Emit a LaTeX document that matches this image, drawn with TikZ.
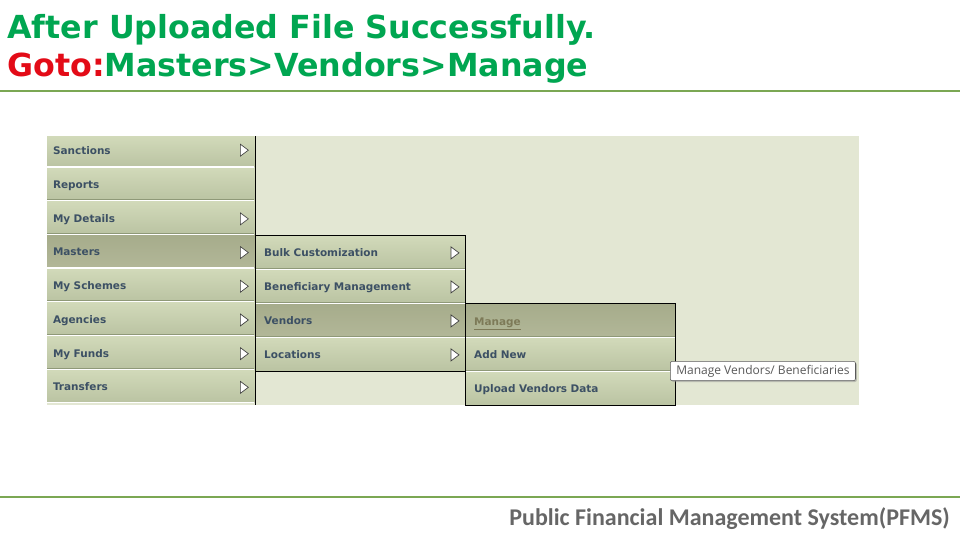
\documentclass[tikz,border=0pt]{standalone}
\usepackage{fontspec}
\setmainfont{DejaVu Sans}
\newfontfamily\footfont{Carlito}
\newfontfamily\tipfont{Open Sans}
\usetikzlibrary{positioning,shadows}
\definecolor{titlegreen}{HTML}{00A651}
\definecolor{gotored}{HTML}{E30B17}
\definecolor{rulegreen}{HTML}{7BA753}
\definecolor{panelbg}{HTML}{E3E7D3}
\definecolor{rowtop}{HTML}{D2DABA}
\definecolor{rowbot}{HTML}{BAC3A2}
\definecolor{hottop}{HTML}{A6AC8B}
\definecolor{hotbot}{HTML}{B2B798}
\definecolor{menutext}{HTML}{3C5064}
\definecolor{linktext}{HTML}{7D7A58}
\definecolor{rowedge}{HTML}{8F9978}
\tikzset{
  menuitem/.style={minimum height=25.27pt, text width=146.5pt, text height=8.6pt, text depth=1.5pt, align=left,
    inner xsep=4.5pt, inner ysep=0pt, outer sep=0pt, top color=rowtop, bottom color=rowbot, text=menutext,
    font=\bfseries\fontsize{7.85}{9}\selectfont},
  subitem/.style={menuitem, minimum height=25.5pt, text width=144.7pt, text height=8pt, inner xsep=6.4pt},
  hot/.style={top color=hottop, bottom color=hotbot},
  arrowtip/.style={draw=black!75, fill=white, line width=.5pt, line join=miter},
  rowline/.style={draw=white, line width=.9pt},
  edgeline/.style={draw=rowedge, line width=.6pt},
  menubox/.style={draw=black, line width=.8pt},
  headtext/.style={anchor=base west, inner sep=0pt, text=titlegreen, font=\bfseries\fontsize{23.8}{28}\selectfont}
}
\begin{document}
\begin{tikzpicture}[x=0.75pt, y=-0.75pt, node distance=0pt]
\useasboundingbox (0,0) rectangle (960,540);
% heading
\node [headtext] (title) at (7,38) {After Uploaded File Successfully.};
\node [headtext] (path) at (7,76) {\textcolor{gotored}{Goto:}Masters>Vendors>Manage};
\coordinate (ruleL) at (0,91);
\coordinate (ruleR) at (960,91);
\draw [rulegreen, line width=2pt] (ruleL) -- (ruleR);
% panel
\node [fill=panelbg, minimum width=609pt, minimum height=202pt, inner sep=0pt, outer sep=0pt, anchor=north west] (panel) at (47,136) {};
% first menu
\node [menuitem, minimum height=23.25pt, text height=6pt, text depth=.9pt, anchor=north west] (sanctions) at (47,136) {Sanctions};
\node [menuitem, below=of sanctions] (reports) {Reports};
\node [menuitem, below=of reports] (details) {My Details};
\node [menuitem, hot, below=of details] (masters) {Masters};
\node [menuitem, below=of masters] (schemes) {My Schemes};
\node [menuitem, below=of schemes] (agencies) {Agencies};
\node [menuitem, below=of agencies] (funds) {My Funds};
\node [menuitem, below=of funds] (transfers) {Transfers};
% second menu
\node [subitem, right=1pt of masters, yshift=-.75pt] (bulk) {Bulk Customization};
\node [subitem, below=of bulk] (beneficiary) {Beneficiary Management};
\node [subitem, hot, below=of beneficiary] (vendors) {Vendors};
\node [subitem, below=of vendors] (locations) {Locations};
% third menu
\node [subitem, hot, minimum height=25.35pt, right=0pt of vendors, yshift=-.4pt] (manage) {\textcolor{linktext}{\underline{Manage}}};
\node [subitem, minimum height=25.35pt, below=of manage] (addnew) {Add New};
\node [subitem, minimum height=25.35pt, below=of addnew] (upload) {Upload Vendors Data};
% row edges
\foreach \row in {sanctions,reports,details,masters,schemes,agencies,funds,transfers,bulk,beneficiary,vendors,manage,addnew}{
  \draw [edgeline] ([yshift=.7pt]\row.south west) -- ([yshift=.7pt]\row.south east);
  \draw [rowline] (\row.south west) -- (\row.south east);
}
% menu borders
\coordinate (barT) at ([xshift=.6pt]sanctions.north east);
\coordinate (barB) at ([xshift=.6pt,yshift=-1.5pt]transfers.south east);
\draw [menubox] (barT) -- (barB);
\draw [menubox] (bulk.north west) rectangle (locations.south east);
\draw [menubox] (manage.north west) rectangle (upload.south east);
% arrows
\foreach \row/\dy in {sanctions/1,details/-1,masters/-1,schemes/-1,agencies/-1,funds/-1,transfers/-1}{
  \draw [arrowtip] ([xshift=-10.5pt,yshift=\dy pt+4.5pt]\row.east) -- ([xshift=-4.5pt,yshift=\dy pt]\row.east) -- ([xshift=-10.5pt,yshift=\dy pt-4.5pt]\row.east) -- cycle;
}
\foreach \row in {bulk,beneficiary,vendors,locations}{
  \draw [arrowtip] ([xshift=-11pt,yshift=4pt]\row.east) -- ([xshift=-5pt,yshift=-.5pt]\row.east) -- ([xshift=-11pt,yshift=-5pt]\row.east) -- cycle;
}
% tooltip
\node [draw=black!65, rounded corners=1.5pt, fill=white, drop shadow={shadow xshift=1pt, shadow yshift=-1pt, fill=black!45},
  inner xsep=4.5pt, inner ysep=1pt, anchor=west, minimum height=14.5pt,
  text=black!65, font=\tipfont\fontsize{9}{10}\selectfont] (tip) at (670,371) {Manage Vendors/ Beneficiaries};
% footer
\coordinate (footL) at (0,497);
\coordinate (footR) at (960,497);
\draw [rulegreen, line width=1.6pt] (footL) -- (footR);
\node [anchor=base east, inner sep=0pt, text=black!60, font=\footfont\bfseries\fontsize{18}{20}\selectfont] (footer) at (950,525) {Public Financial Management System(PFMS)};
\end{tikzpicture}
\end{document}
